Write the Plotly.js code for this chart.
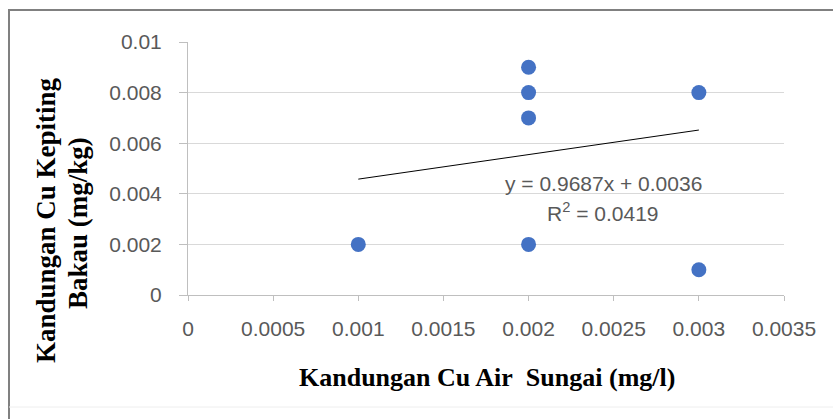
<!DOCTYPE html>
<html>
<head>
<meta charset="utf-8">
<script src="https://cdn.plot.ly/plotly-3.0.1.min.js"></script>
<style>html,body{margin:0;padding:0;background:#fff;}#chart{width:833px;height:419px;}</style>
</head>
<body>
<div id="chart"></div>
<script>
// Data
const airSungai = [0.001, 0.002, 0.002, 0.002, 0.002, 0.003, 0.003];
const kepitingBakau = [0.002, 0.009, 0.008, 0.007, 0.002, 0.008, 0.001];
const trendX = [0.001, 0.003];
const trendY = [0.00458, 0.00652];
const xTickVals = [0, 0.0005, 0.001, 0.0015, 0.002, 0.0025, 0.003, 0.0035];
const xTickText = ["0", "0.0005", "0.001", "0.0015", "0.002", "0.0025", "0.003", "0.0035"];
const yTickVals = [0, 0.002, 0.004, 0.006, 0.008, 0.01];
const yTickText = ["0", "0.002", "0.004", "0.006", "0.008", "0.01"];
const equationText = "y = 0.9687x + 0.0036";
const r2Text = "R<sup>2</sup> = 0.0419";
const xTitle = "Kandungan Cu Air&nbsp; Sungai (mg/l)";
const yTitleLine1 = "Kandungan Cu Kepiting";
const yTitleLine2 = "Bakau (mg/kg)";

const L = 188, R = 784, T = 42, B = 295;
const W = 833, H = 419;
const px = v => (v - L) / (R - L);
const py = v => (B - v) / (B - T);

const tickFont = {family: "Liberation Sans, Arial, sans-serif", size: 21, color: "#595959"};
const titleFont = {family: "Liberation Serif, Times New Roman, serif", size: 26, color: "#000000"};

const traces = [
  {
    x: trendX, y: trendY, type: "scatter", mode: "lines",
    line: {color: "#000000", width: 1}, hoverinfo: "skip", showlegend: false
  },
  {
    x: airSungai, y: kepitingBakau, type: "scatter", mode: "markers",
    marker: {color: "#4472C4", size: 15}, showlegend: false
  }
];

const layout = {
  width: W, height: H,
  margin: {l: L, r: W - R, t: T, b: H - B, pad: 0},
  paper_bgcolor: "#ffffff", plot_bgcolor: "#ffffff",
  showlegend: false,
  xaxis: {
    range: [0, 0.0035], tickvals: xTickVals, ticktext: xTickText,
    showgrid: false, zeroline: false, showline: true, linecolor: "#bfbfbf", linewidth: 1,
    ticks: "outside", ticklen: 5, tickcolor: "#bfbfbf", tickfont: tickFont,
    ticklabelstandoff: 10, fixedrange: true
  },
  yaxis: {
    range: [0, 0.01], tickvals: yTickVals, ticktext: yTickText,
    showgrid: true, gridcolor: "#d9d9d9", gridwidth: 1, zeroline: false,
    showline: true, linecolor: "#bfbfbf", linewidth: 1,
    ticks: "outside", ticklen: 8, tickcolor: "#bfbfbf", tickfont: tickFont,
    ticklabelstandoff: 13, fixedrange: true
  },
  annotations: [
    {text: equationText, xref: "paper", yref: "paper", x: px(603), y: py(183),
     xanchor: "center", yanchor: "middle", showarrow: false, font: tickFont},
    {text: r2Text, xref: "paper", yref: "paper", x: px(603), y: py(212),
     xanchor: "center", yanchor: "middle", showarrow: false, font: tickFont},
    {text: "<b>" + xTitle + "</b>", xref: "paper", yref: "paper", x: px(487), y: py(378),
     xanchor: "center", yanchor: "middle", showarrow: false, font: titleFont},
    {text: "<b>" + yTitleLine1 + "</b>", xref: "paper", yref: "paper", x: px(46), y: py(220),
     xanchor: "center", yanchor: "middle", textangle: -90, showarrow: false, font: Object.assign({}, titleFont, {size: 27})},
    {text: "<b>" + yTitleLine2 + "</b>", xref: "paper", yref: "paper", x: px(78), y: py(223),
     xanchor: "center", yanchor: "middle", textangle: -90, showarrow: false, font: Object.assign({}, titleFont, {size: 27})}
  ],
  shapes: [
    {type: "line", xref: "paper", yref: "paper", x0: px(8), x1: px(833), y0: py(10), y1: py(10),
     line: {color: "#808080", width: 2}},
    {type: "line", xref: "paper", yref: "paper", x0: px(9), x1: px(9), y0: py(10), y1: py(419),
     line: {color: "#808080", width: 2}},
    {type: "line", xref: "paper", yref: "paper", x0: px(9), x1: px(833), y0: py(407), y1: py(407),
     line: {color: "#eeeeee", width: 1}}
  ]
};

Plotly.newPlot("chart", traces, layout, {displayModeBar: false, staticPlot: true});
</script>
</body>
</html>
